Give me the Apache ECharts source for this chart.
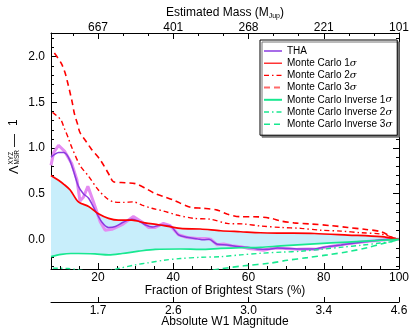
<!DOCTYPE html>
<html><head><meta charset="utf-8">
<script src="https://cdn.jsdelivr.net/npm/echarts@6/dist/echarts.min.js"></script>
<style>html,body{margin:0;padding:0;background:#fff}#c{width:411px;height:329px}</style>
</head><body><div id="c"></div>
<script>
// ---- tick labels ----
const fracTicks = [20, 40, 60, 80, 100];
const massLabels = ['667', '401', '268', '221', '101'];
const w1Labels = ['1.7', '2.6', '3.0', '3.4', '4.6'];
const yTicks = [0, 0.5, 1.0, 1.5, 2.0];

// ---- series (x = fraction of brightest stars %, y = Lambda - 1) ----
const thaRawX = [7.5, 8.2, 9.5, 11.2, 13, 14.4, 15.2, 16.1, 17.3, 18.8, 20.6, 21.9, 23.7, 26.4, 29.4, 31.7, 33.4, 35.2, 37.4, 39.2, 41.4, 43.7, 46.4, 48.6, 50, 51.7, 53.4, 55.5, 58, 60, 62, 64, 66, 68, 70, 73, 76, 78, 80, 83, 86, 89, 92, 95, 98, 100];
const thaRawY = [0.81, 0.95, 1.03, 0.96, 0.83, 0.65, 0.42, 0.46, 0.58, 0.41, 0.19, 0.10, 0.11, 0.16, 0.25, 0.19, 0.13, 0.13, 0.175, 0.15, 0.05, 0.02, 0.01, 0.01, 0.0, -0.06, -0.05, -0.07, -0.08, -0.10, -0.11, -0.12, -0.10, -0.095, -0.10, -0.11, -0.105, -0.11, -0.09, -0.07, -0.05, -0.035, -0.02, -0.01, 0, 0];

const thaX = [7.5, 8.5, 9.5, 10.8, 12.1, 13.4, 14.8, 16.1, 17.5, 19.2, 21, 22.8, 24.6, 26.8, 29, 30.8, 32.5, 34.4, 36.6, 39.2, 41.4, 43.7, 46.4, 48.1, 49.5, 51.7, 54.3, 57, 59.7, 62.4, 65, 67.7, 70, 73, 77.5, 81, 84.6, 89, 93.5, 97.9, 100];
const thaY = [0.90, 0.93, 0.95, 0.95, 0.90, 0.76, 0.58, 0.50, 0.45, 0.32, 0.19, 0.13, 0.14, 0.19, 0.22, 0.20, 0.16, 0.135, 0.155, 0.145, 0.05, 0.022, 0.005, -0.005, 0.0, -0.055, -0.062, -0.078, -0.088, -0.105, -0.11, -0.095, -0.10, -0.105, -0.105, -0.08, -0.062, -0.037, -0.015, 0, 0];

const mc1X = [7.5, 9.4, 11, 12.6, 14.8, 17.5, 20.1, 22.8, 25.4, 29, 32.5, 36.1, 41.9, 47.2, 52.6, 57.9, 63.2, 68.6, 77.5, 86.4, 95.2, 100];
const mc1Y = [0.70, 0.65, 0.60, 0.54, 0.41, 0.36, 0.28, 0.23, 0.21, 0.21, 0.18, 0.16, 0.12, 0.113, 0.094, 0.083, 0.072, 0.068, 0.064, 0.047, 0.029, 0];

const mc2X = [7.9, 10.1, 11, 12.1, 12.7, 15.2, 17.5, 20.1, 22.3, 24.1, 26.8, 29.4, 31.7, 34.3, 37.4, 41, 45.4, 49.9, 54.3, 58.8, 63.2, 68.6, 73.9, 79.2, 84.6, 89.9, 95.2, 99.2, 100];
const mc2Y = [1.39, 1.31, 1.22, 1.11, 1.04, 0.81, 0.69, 0.54, 0.45, 0.41, 0.405, 0.41, 0.375, 0.34, 0.31, 0.266, 0.23, 0.22, 0.175, 0.168, 0.146, 0.13, 0.12, 0.10, 0.09, 0.072, 0.058, 0.01, 0];

const mc3X = [8.4, 10.2, 11.2, 11.9, 12.6, 13.2, 13.7, 14.5, 15.2, 16.7, 18.2, 20.6, 23.2, 24.1, 27.2, 29.9, 32.6, 35.2, 37.4, 40.1, 44.6, 48.1, 51.7, 54.3, 57.9, 61.4, 65.9, 68.6, 72.1, 76.6, 81.9, 86.4, 90.8, 95.2, 98.8, 100];
const mc3Y = [2.04, 1.93, 1.83, 1.72, 1.60, 1.49, 1.38, 1.27, 1.17, 1.08, 0.99, 0.87, 0.69, 0.63, 0.62, 0.61, 0.56, 0.50, 0.47, 0.43, 0.35, 0.34, 0.32, 0.277, 0.248, 0.248, 0.23, 0.20, 0.18, 0.168, 0.15, 0.13, 0.11, 0.083, 0.01, 0];

const inv1X = [7.5, 10.2, 12.8, 14.8, 19.2, 22.8, 26.4, 30.8, 35.2, 41.9, 47.2, 52.6, 57.9, 63.2, 68.6, 77.5, 86.4, 95.2, 100];
const inv1Y = [-0.19, -0.165, -0.155, -0.155, -0.16, -0.17, -0.155, -0.13, -0.11, -0.106, -0.11, -0.10, -0.092, -0.088, -0.072, -0.05, -0.03, -0.01, 0];

const inv2X = [8, 12, 15, 20, 24, 25.4, 29.9, 33.4, 37.4, 41.9, 47.2, 52.6, 58, 63.2, 69, 74, 79.2, 85, 90, 95, 97.9, 100];
const inv2Y = [-0.315, -0.32, -0.335, -0.36, -0.335, -0.32, -0.28, -0.256, -0.23, -0.21, -0.197, -0.19, -0.17, -0.153, -0.14, -0.13, -0.11, -0.085, -0.065, -0.04, -0.026, 0];

const inv3X = [40, 50, 53, 58.8, 65.9, 70.3, 75.7, 81, 86.4, 91.7, 95.2, 98.8, 100];
const inv3Y = [-0.40, -0.34, -0.32, -0.29, -0.26, -0.23, -0.20, -0.17, -0.136, -0.09, -0.052, -0.015, 0];

const zip = (xs, ys) => xs.map((x, i) => [x, ys[i]]);

const FONT = "'Liberation Sans', Arial, Helvetica, sans-serif";
const RED = '#ff0000';
const GREEN = '#18e890';
const XMIN = 7.5, XMAX = 100, YMIN = -0.325, YMAX = 2.26;
const DASHDOT = [5, 3, 1.5, 3];
const DASH = [6, 4];

const majorX = fracTicks;
const minorX = [10, 15, 25, 30, 35, 45, 50, 55, 65, 70, 75, 85, 90, 95];
const topMinorX = [13.333, 26.667, 33.333, 46.667, 53.333, 66.667, 73.333, 86.667, 93.333];
const minorY = [-0.3, -0.2, -0.1, 0.1, 0.2, 0.3, 0.4, 0.6, 0.7, 0.8, 0.9, 1.1, 1.2, 1.3, 1.4, 1.6, 1.7, 1.8, 1.9, 2.1, 2.2];

const axLine = { show: true, onZero: false, lineStyle: { color: '#000', width: 1 } };
const noLine = { show: false, onZero: false };
const txt = { color: '#000', fontSize: 12, fontFamily: FONT };

function xAx(extra) {
  return Object.assign({ type: 'value', min: XMIN, max: XMAX, splitLine: { show: false }, axisLine: axLine, nameMoveOverlap: false }, extra);
}
function yAx(extra) {
  return Object.assign({ type: 'value', min: YMIN, max: YMAX, splitLine: { show: false }, axisLine: axLine }, extra);
}
const idx = v => fracTicks.findIndex(t => Math.abs(t - v) < 1e-6);

const hideSym = { color: 'rgba(0,0,0,0)', borderColor: 'rgba(0,0,0,0)', borderWidth: 0, opacity: 0 };
const legendItems = [
  { name: 'THA', color: '#8a3be0', width: 1.5, type: 'solid' },
  { name: 'Monte Carlo 1σ', color: RED, width: 1.2, type: 'solid' },
  { name: 'Monte Carlo 2σ', color: RED, width: 1.2, type: DASHDOT },
  { name: 'Monte Carlo 3σ', color: '#ff6a6a', width: 2, type: DASH },
  { name: 'Monte Carlo Inverse 1σ', color: GREEN, width: 2, type: 'solid' },
  { name: 'Monte Carlo Inverse 2σ', color: GREEN, width: 1.4, type: DASHDOT },
  { name: 'Monte Carlo Inverse 3σ', color: GREEN, width: 1.6, type: DASH }
];

const chart = echarts.init(document.getElementById('c'), null, { renderer: 'canvas' });
const option = {
  animation: false,
  backgroundColor: '#fff',
  grid: { left: 51, right: 12, top: 33, bottom: 60, outerBoundsMode: 'none', containLabel: false },
  xAxis: [
    xAx({ position: 'bottom',
      axisTick: { show: true, inside: true, length: 6, customValues: majorX, lineStyle: { color: '#000' } },
      axisLabel: Object.assign({ customValues: majorX, margin: 3 }, txt),
      name: 'Fraction of Brightest Stars (%)', nameLocation: 'middle', nameGap: 22,
      nameTextStyle: Object.assign({ verticalAlign: 'middle' }, txt) }),
    xAx({ position: 'bottom', axisLine: noLine,
      axisTick: { show: true, inside: true, length: 3, customValues: minorX, lineStyle: { color: '#000' } },
      axisLabel: { show: false } }),
    xAx({ position: 'top',
      axisTick: { show: true, inside: true, length: 6, customValues: majorX, lineStyle: { color: '#000' } },
      axisLabel: Object.assign({ customValues: majorX, margin: -1, formatter: v => massLabels[idx(v)] }, txt),
      name: 'Estimated Mass (M{s|Jup})', nameLocation: 'middle', nameGap: 20,
      nameTextStyle: Object.assign({ verticalAlign: 'middle', rich: { s: { fontSize: 7, fontFamily: FONT, color: '#000', padding: [6, 0, 0, 0] } } }, txt) }),
    xAx({ position: 'top', axisLine: noLine,
      axisTick: { show: true, inside: true, length: 3, customValues: topMinorX, lineStyle: { color: '#000' } },
      axisLabel: { show: false } }),
    xAx({ position: 'bottom', offset: 33,
      axisTick: { show: true, inside: true, length: 5, customValues: majorX, lineStyle: { color: '#000' } },
      axisLabel: Object.assign({ customValues: majorX, margin: 3, formatter: v => w1Labels[idx(v)] }, txt),
      name: 'Absolute W1 Magnitude', nameLocation: 'middle', nameGap: 20,
      nameTextStyle: Object.assign({ verticalAlign: 'middle' }, txt) })
  ],
  yAxis: [
    yAx({ position: 'left',
      axisTick: { show: true, inside: true, length: 6, customValues: yTicks, lineStyle: { color: '#000' } },
      axisLabel: Object.assign({ customValues: yTicks, margin: 6, formatter: v => v.toFixed(1) }, txt) }),
    yAx({ position: 'left', axisLine: noLine,
      axisTick: { show: true, inside: true, length: 3, customValues: minorY, lineStyle: { color: '#000' } },
      axisLabel: { show: false } }),
    yAx({ position: 'right',
      axisTick: { show: true, inside: true, length: 6, customValues: yTicks, lineStyle: { color: '#000' } },
      axisLabel: { show: false } }),
    yAx({ position: 'right', axisLine: noLine,
      axisTick: { show: true, inside: true, length: 3, customValues: minorY, lineStyle: { color: '#000' } },
      axisLabel: { show: false } })
  ],
  legend: {
    left: 260, top: 40, orient: 'vertical',
    padding: [6, 5, 6, 3], itemWidth: 18, itemHeight: 10, itemGap: 2.2,
    backgroundColor: '#fff', borderColor: '#000', borderWidth: 1,
    shadowColor: '#777', shadowOffsetX: 2, shadowOffsetY: 2, shadowBlur: 0,
    itemStyle: hideSym,
    data: legendItems.map(it => ({ name: it.name, itemStyle: hideSym,
      lineStyle: { color: it.color, width: it.width, type: it.type } })),
    formatter: n => n.replace('σ', '{s|σ}'),
    textStyle: { color: '#000', fontSize: 10, lineHeight: 10, fontFamily: FONT,
      rich: { s: { fontStyle: 'italic', fontFamily: "'DejaVu Serif', serif", fontSize: 10, lineHeight: 10, color: '#000' } } }
  },
  graphic: [{
    type: 'group', x: 14, y: 147, rotation: Math.PI / 2,
    children: [
      { type: 'text', x: -27, y: 0, style: { text: 'Λ', fontSize: 13, fontFamily: FONT, fill: '#000', verticalAlign: 'middle', align: 'left' } },
      { type: 'text', x: -17.5, y: -2.5, style: { text: 'XYZ', fontSize: 6.5, fontFamily: FONT, fill: '#000', verticalAlign: 'middle', align: 'left' } },
      { type: 'text', x: -17.5, y: 3, style: { text: 'MSR', fontSize: 6.5, fontFamily: FONT, fill: '#000', verticalAlign: 'middle', align: 'left' } },
      { type: 'text', x: 0, y: 0, style: { text: '—', fontSize: 13, fontFamily: FONT, fill: '#000', verticalAlign: 'middle', align: 'left' } },
      { type: 'text', x: 21, y: 0, style: { text: '1', fontSize: 12, fontFamily: FONT, fill: '#000', verticalAlign: 'middle', align: 'left' } }
    ]
  }],
  series: [
    { type: 'custom', name: 'band', silent: true, xAxisIndex: 0, yAxisIndex: 0, z: 1, clip: true,
      data: [[XMIN, 0]],
      renderItem: (params, api) => {
        const up = zip(mc1X, mc1Y).map(p => api.coord(p));
        const lo = zip(inv1X, inv1Y).map(p => api.coord(p)).reverse();
        return { type: 'polygon', shape: { points: up.concat(lo), smooth: 0 }, style: { fill: '#c8eefb' } };
      } },
    { type: 'line', name: 'THA raw', data: zip(thaRawX, thaRawY), symbol: 'none', z: 3,
      lineStyle: { color: '#e48cf2', width: 3 }, itemStyle: { color: '#e48cf2' } },
    { type: 'line', name: 'THA', data: zip(thaX, thaY), symbol: 'none', smooth: 0.3, z: 4,
      lineStyle: { color: '#8a3be0', width: 1.5 }, itemStyle: { color: '#8a3be0' } },
    { type: 'line', name: 'Monte Carlo 1σ', data: zip(mc1X, mc1Y), symbol: 'none', smooth: 0.3, z: 5,
      lineStyle: { color: RED, width: 1.7 }, itemStyle: { color: RED } },
    { type: 'line', name: 'Monte Carlo 2σ', data: zip(mc2X, mc2Y), symbol: 'none', smooth: 0.3, z: 5,
      lineStyle: { color: RED, width: 1.4, type: DASHDOT }, itemStyle: { color: RED } },
    { type: 'line', name: 'Monte Carlo 3σ', data: zip(mc3X, mc3Y), symbol: 'none', smooth: 0.3, z: 5,
      lineStyle: { color: RED, width: 1.6, type: DASH }, itemStyle: { color: RED } },
    { type: 'line', name: 'Monte Carlo Inverse 1σ', data: zip(inv1X, inv1Y), symbol: 'none', smooth: 0.3, z: 5,
      lineStyle: { color: GREEN, width: 1.7 }, itemStyle: { color: GREEN } },
    { type: 'line', name: 'Monte Carlo Inverse 2σ', data: zip(inv2X, inv2Y), symbol: 'none', smooth: 0.3, z: 5,
      lineStyle: { color: GREEN, width: 1.4, type: DASHDOT }, itemStyle: { color: GREEN } },
    { type: 'line', name: 'Monte Carlo Inverse 3σ', data: zip(inv3X, inv3Y), symbol: 'none', smooth: 0.3, z: 5,
      lineStyle: { color: GREEN, width: 1.6, type: DASH }, itemStyle: { color: GREEN } }
  ]
};
chart.setOption(option);
</script>
</body></html>
